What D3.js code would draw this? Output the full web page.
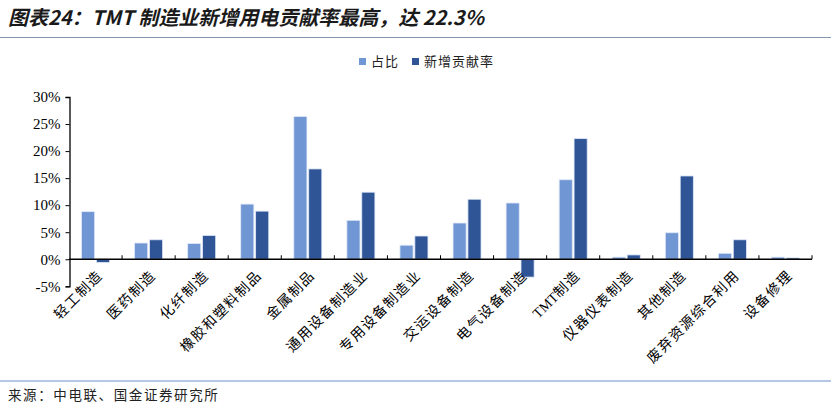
<!DOCTYPE html>
<html>
<head>
<meta charset="utf-8">
<script src="https://cdn.jsdelivr.net/npm/d3@7"></script>
<style>
  body { margin: 0; background: #fff; }
  svg { display: block; }
</style>
</head>
<body>
<div id="chart"></div>
<script>
// data
const categories = ['轻工制造', '医药制造', '化纤制造', '橡胶和塑料制品', '金属制品', '通用设备制造业',
    '专用设备制造业', '交运设备制造', '电气设备制造', 'TMT制造', '仪器仪表制造', '其他制造',
    '废弃资源综合利用', '设备修理'];
const shareValues = [8.8, 3.0, 2.9, 10.2, 26.4, 7.2, 2.6, 6.7, 10.4, 14.7, 0.4, 4.9, 1.1, 0.4];
const contribValues = [-0.6, 3.6, 4.4, 8.9, 16.7, 12.4, 4.3, 11.1, -3.3, 22.3, 0.8, 15.4, 3.6, 0.25];
const seriesNames = ['占比', '新增贡献率'];
const yTicks = [-5, 0, 5, 10, 15, 20, 25, 30];

const W = 831, H = 407;
const colors = ['#7096D4', '#2F5597'];
const cjk = '"Noto Sans CJK SC", sans-serif';
const serif = '"Liberation Serif", "Times New Roman", serif';

const svg = d3.select('#chart').append('svg')
    .attr('width', W)
    .attr('height', H);

// title + rule
svg.append('text')
    .attr('x', 8)
    .attr('y', 25)
    .attr('font-family', cjk)
    .attr('font-size', 20)
    .attr('font-weight', 'bold')
    .attr('font-style', 'italic')
    .attr('fill', '#1a1a1a')
    .text('图表24：TMT 制造业新增用电贡献率最高，达 22.3%');

svg.append('line')
    .attr('x1', 0).attr('x2', W)
    .attr('y1', 37.5).attr('y2', 37.5)
    .attr('stroke', '#8497B0')
    .attr('stroke-width', 1);

// scales
const x = d3.scaleBand()
    .domain(categories)
    .range([69, 812]);

const y = d3.scaleLinear()
    .domain([-5, 30])
    .range([286.3, 97]);

const inner = d3.scaleBand()
    .domain(seriesNames)
    .range([0, 28])
    .paddingInner(0.12);

const groupOffset = (x.bandwidth() - 28) / 2;

// bars
seriesNames.forEach((name, si) => {
    const vals = si === 0 ? shareValues : contribValues;
    svg.append('g')
        .selectAll('rect')
        .data(vals)
        .join('rect')
        .attr('x', (d, i) => x(categories[i]) + groupOffset + inner(name))
        .attr('width', inner.bandwidth())
        .attr('y', d => y(Math.max(0, d)))
        .attr('height', d => Math.abs(y(d) - y(0)))
        .attr('fill', colors[si])
        .attr('stroke', '#dfe8f7')
        .attr('stroke-width', 0.8);
});

// y axis
const yAxis = svg.append('g')
    .attr('transform', 'translate(69.5,0)')
    .call(d3.axisLeft(y).tickValues(yTicks).tickSize(4).tickFormat(d => d + '%'));
yAxis.select('.domain').attr('stroke', '#000').attr('stroke-width', 1.3);
yAxis.selectAll('.tick line').attr('stroke', '#000');
yAxis.selectAll('.tick text')
    .attr('x', -9)
    .attr('font-family', serif)
    .attr('font-size', 15)
    .attr('fill', '#000');

// x axis at zero
const xAxis = svg.append('g')
    .attr('transform', `translate(0,${y(0)})`);
xAxis.append('line')
    .attr('x1', 69).attr('x2', 812)
    .attr('stroke', '#000')
    .attr('stroke-width', 1.3);
xAxis.selectAll('line.tk')
    .data(categories.slice(1).concat(['end']))
    .join('line')
    .attr('class', 'tk')
    .attr('x1', (d, i) => 69 + (i + 1) * x.step())
    .attr('x2', (d, i) => 69 + (i + 1) * x.step())
    .attr('y1', 0).attr('y2', -4)
    .attr('stroke', '#000');

// rotated category labels: latin runs tight, CJK runs spaced
const labels = svg.append('g')
    .selectAll('text')
    .data(categories)
    .join('text')
    .attr('transform', d => `translate(${x(d) + x.bandwidth() / 2 + 8},${y(-5) - 10}) rotate(-45)`)
    .attr('text-anchor', 'end')
    .attr('font-family', '"Liberation Serif", "Noto Sans CJK SC", serif')
    .attr('font-size', 14)
    .attr('fill', '#000');

labels.each(function(d) {
    const runs = d.match(/[A-Za-z0-9]+|[^A-Za-z0-9]+/g);
    runs.forEach(r => {
        d3.select(this).append('tspan')
            .attr('letter-spacing', /[A-Za-z0-9]/.test(r) ? 0 : 1.5)
            .text(r);
    });
});

// legend
const legend = svg.append('g').attr('transform', 'translate(359,55)');
const legendX = [0, 53];
seriesNames.forEach((name, i) => {
    legend.append('rect')
        .attr('x', legendX[i]).attr('y', 3)
        .attr('width', 7).attr('height', 7)
        .attr('fill', colors[i]);
    legend.append('text')
        .attr('x', legendX[i] + 12).attr('y', 11)
        .attr('font-family', cjk)
        .attr('font-size', 13)
        .attr('letter-spacing', 1)
        .attr('fill', '#222')
        .text(name);
});

// footer
svg.append('line')
    .attr('x1', 0).attr('x2', W)
    .attr('y1', 381).attr('y2', 381)
    .attr('stroke', '#B4C7E7')
    .attr('stroke-width', 2);

svg.append('text')
    .attr('x', 8).attr('y', 400)
    .attr('font-family', cjk)
    .attr('font-size', 13.5)
    .attr('letter-spacing', 1.6)
    .attr('fill', '#222')
    .text('来源：中电联、国金证券研究所');
</script>
</body>
</html>
